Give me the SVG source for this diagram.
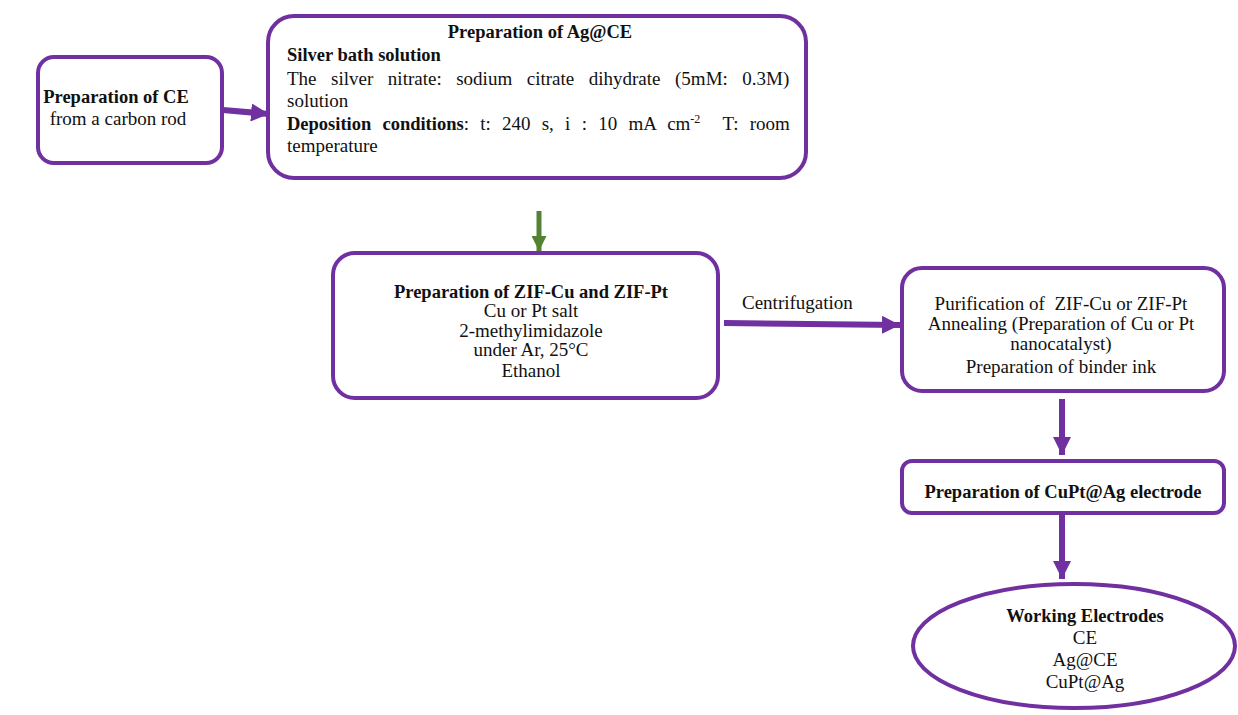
<svg xmlns="http://www.w3.org/2000/svg" width="1238" height="715" viewBox="0 0 1238 715">
<defs>
<style>
.box{fill:#fff;stroke:#7030A0;stroke-width:4}
text{font-family:"Liberation Serif",Tinos,"Times New Roman",serif;font-size:19px;fill:#111}
.b{font-weight:bold;font-size:18.5px}
.c{text-anchor:middle}
.pl{stroke:#7030A0;stroke-width:6;fill:none}
.gl{stroke:#548235;stroke-width:5;fill:none}
</style>
<marker id="ap" viewBox="0 0 10 10" refX="10" refY="5" markerWidth="3" markerHeight="3" orient="auto" markerUnits="strokeWidth"><path d="M0,0L10,5L0,10z" fill="#7030A0"/></marker>
<marker id="ag" viewBox="0 0 10 10" refX="10" refY="5" markerWidth="3" markerHeight="3" orient="auto" markerUnits="strokeWidth"><path d="M0,0L10,5L0,10z" fill="#548235"/></marker>
</defs>
<rect width="1238" height="715" fill="#fff"/>
<g id="connectors">
<line class="pl" x1="223" y1="110" x2="269" y2="114" marker-end="url(#ap)"/>
<line class="gl" x1="539" y1="211" x2="539" y2="251" marker-end="url(#ag)"/>
<line class="pl" x1="724" y1="323" x2="900" y2="325" marker-end="url(#ap)"/>
<text x="742" y="309">Centrifugation</text>
<line class="pl" x1="1062" y1="399" x2="1062" y2="455" marker-end="url(#ap)"/>
<line class="pl" x1="1062" y1="515" x2="1062" y2="579" marker-end="url(#ap)"/>
</g>
<g id="node-ce">
<rect class="box" x="38" y="57" width="184" height="106" rx="16"/>
<text class="b c" x="116" y="103">Preparation of CE</text>
<text class="c" x="118" y="125">from a carbon rod</text>
</g>
<g id="node-agce">
<rect class="box" x="268" y="16" width="538" height="162" rx="26"/>
<text class="b c" x="540" y="38">Preparation of Ag@CE</text>
<text class="b" x="287" y="61">Silver bath solution</text>
<text x="287" y="85" word-spacing="9.8">The silver nitrate: sodium citrate dihydrate (5mM: 0.3M)</text>
<text x="287" y="107">solution</text>
<text x="287" y="130" word-spacing="6.5"><tspan class="b">Deposition conditions</tspan>: t: 240 s, i : 10 mA cm<tspan font-size="12" dy="-7">-2</tspan><tspan dy="7">&#160; T: room</tspan></text>
<text x="287" y="152">temperature</text>
</g>
<g id="node-zif">
<rect class="box" x="333" y="253" width="385" height="145" rx="22"/>
<text class="b c" x="531" y="298">Preparation of ZIF-Cu and ZIF-Pt</text>
<text class="c" x="531" y="317">Cu or Pt salt</text>
<text class="c" x="531" y="337">2-methylimidazole</text>
<text class="c" x="531" y="356">under Ar, 25°C</text>
<text class="c" x="531" y="377">Ethanol</text>
</g>
<g id="node-purif">
<rect class="box" x="902" y="268" width="322" height="123" rx="20"/>
<text class="c" x="1061" y="310">Purification of&#160; ZIF-Cu or ZIF-Pt</text>
<text class="c" x="1061" y="330">Annealing (Preparation of Cu or Pt</text>
<text class="c" x="1061" y="350">nanocatalyst)</text>
<text class="c" x="1061" y="373">Preparation of binder ink</text>
</g>
<g id="node-cupt">
<rect class="box" x="902" y="461" width="322" height="52" rx="10"/>
<text class="b c" x="1063" y="498">Preparation of CuPt@Ag electrode</text>
</g>
<g id="node-we">
<ellipse class="box" cx="1074" cy="646" rx="161" ry="62" stroke-width="5"/>
<text class="b c" x="1085" y="622">Working Electrodes</text>
<text class="c" x="1085" y="644">CE</text>
<text class="c" x="1085" y="666">Ag@CE</text>
<text class="c" x="1085" y="688">CuPt@Ag</text>
</g>
</svg>
